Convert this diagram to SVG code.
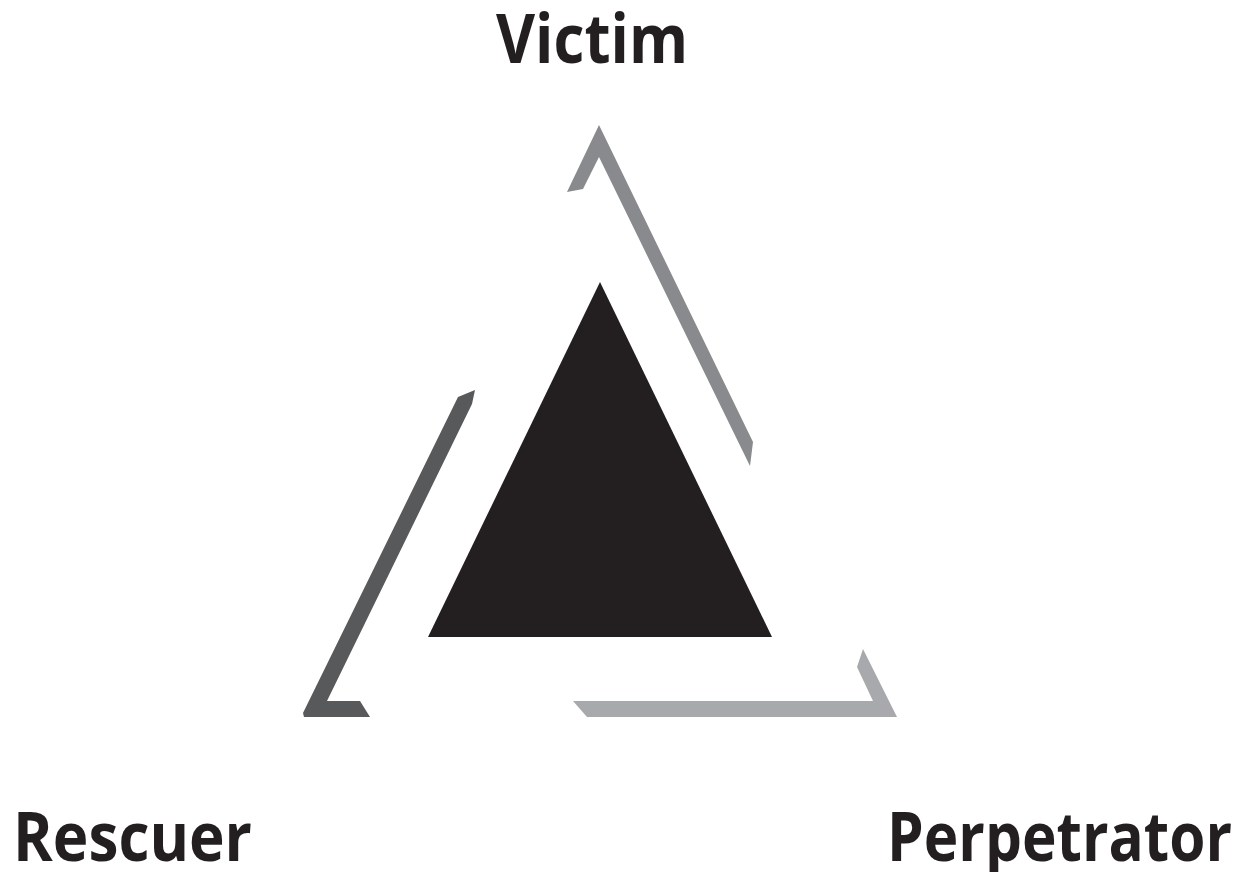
<svg xmlns="http://www.w3.org/2000/svg" width="1248" height="872" viewBox="0 0 1248 872">
<style>
.lbl{font-family:"Open Sans","Liberation Sans",sans-serif;font-weight:700;font-size:68px;fill:#231f20}
</style>
<rect width="1248" height="872" fill="#ffffff"/>
<g id="core"><polygon points="600,282 772,637 428,637" fill="#231f20"/></g>
<g id="connectors">
<polygon id="arc-victim" points="599,125 753,442 750,466 599,157 583,189 567,192" fill="#898a8d"/>
<polygon id="arc-rescuer" points="458,397 475,390 472,404 327,701 360,701 370,717 304,717 303,713" fill="#58595b"/>
<polygon id="arc-perpetrator" points="573,701 873,701 857,667 863,649 897,717 587,717" fill="#a7a9ac"/>
</g>
<g id="victim"><text class="lbl" x="496" y="63" textLength="192" lengthAdjust="spacingAndGlyphs">Victim</text></g>
<g id="rescuer"><text class="lbl" x="13" y="861" textLength="239" lengthAdjust="spacingAndGlyphs">Rescuer</text></g>
<g id="perpetrator"><text class="lbl" x="887" y="861" textLength="345" lengthAdjust="spacingAndGlyphs">Perpetrator</text></g>
</svg>
